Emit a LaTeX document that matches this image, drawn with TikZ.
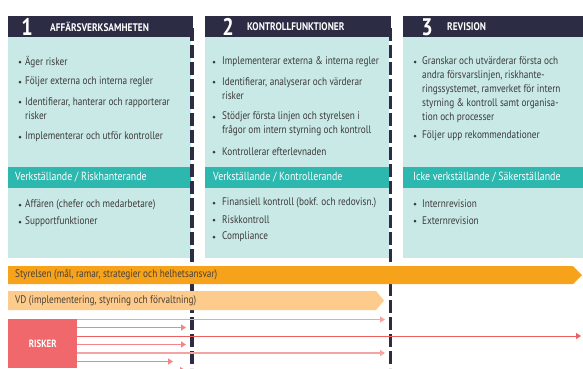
\documentclass[tikz,border=0pt]{standalone}
\usepackage{fontspec}
\setmainfont{PT Sans}[FakeStretch=0.84]
\newfontfamily\titlefam{PT Sans}[FakeStretch=0.85]
\usetikzlibrary{arrows.meta}
\definecolor{navy}{HTML}{2C2D44}
\definecolor{paleteal}{HTML}{C9E9E6}
\definecolor{tealbar}{HTML}{2CB8AF}
\definecolor{txtgray}{HTML}{3A3A3A}
\definecolor{orangebar}{HTML}{F7A21B}
\definecolor{lightorange}{HTML}{FDCB8B}
\definecolor{riskred}{HTML}{F0686B}
\definecolor{arrlight}{HTML}{F5A3A3}
\definecolor{arrmid}{HTML}{F28585}
\definecolor{arrred}{HTML}{EE5F5F}
\definecolor{bartext}{HTML}{4A4035}
\tikzset{
  hdr/.style={fill=navy},
  colbody/.style={fill=paleteal},
  secbar/.style={fill=tealbar},
  txt/.style={anchor=west, inner sep=0pt, text=txtgray, align=left, font=\fontsize{11}{14}\selectfont},
  sectxt/.style={anchor=west, inner sep=0pt, text=white, font=\fontsize{11.8}{13}\selectfont},
  numtxt/.style={anchor=center, inner sep=0pt, text=white, font=\fontsize{24}{26}\selectfont\bfseries},
  titletxt/.style={anchor=west, inner sep=0pt, text=white, font=\fontsize{11}{12}\titlefam\bfseries},
  bartxt/.style={anchor=west, inner sep=0pt, text=bartext, font=\fontsize{11}{13}\selectfont},
  bul/.style={fill=txtgray},
  divider/.style={draw=navy, line width=3.2pt, dash pattern=on 13pt off 4pt},
  arrowbase/.style={-{Triangle[length=5pt,width=6pt]}},
  alight/.style={arrowbase, arrlight, line width=1.4pt},
  amid/.style={arrowbase, arrmid, line width=1.2pt},
  ared/.style={arrowbase, arrred, line width=0.9pt},
}
\begin{document}
\begin{tikzpicture}[x=1pt,y=-1pt]
\useasboundingbox (0,0) rectangle (583,368);

% column bodies
\fill[colbody] (8,37) rectangle (191,258);
\fill[colbody] (205,37) rectangle (389,258);
\fill[colbody] (403,37) rectangle (583,258);
% headers
\fill[hdr] (8,16) rectangle (193,37);
\fill[hdr] (205,16) rectangle (391,37);
\fill[hdr] (403,16) rectangle (583,37);
% section bars
\fill[secbar] (8,167) rectangle (191,188);
\fill[secbar] (205,167) rectangle (389,188);
\fill[secbar] (403,167) rectangle (583,188);

% dividers
\coordinate (d1top) at (192,28);
\coordinate (d1bot) at (192,368);
\coordinate (d2top) at (390.5,28);
\coordinate (d2bot) at (390.5,368);
\draw[divider] (d1top) -- (d1bot);
\draw[divider] (d2top) -- (d2bot);

% header texts
\node[numtxt] (n1) at (27,27) {1};
\node[titletxt] (t1) at (50,27) {AFFÄRSVERKSAMHETEN};
\node[numtxt] (n2) at (228,27) {2};
\node[titletxt] (t2) at (247,27) {KONTROLLFUNKTIONER};
\node[numtxt] (n3) at (427,27) {3};
\node[titletxt] (t3) at (447,27) {REVISION};

% column 1
\fill[bul] (20,62) circle (1.5);
\node[txt] (c1a) at (25,62) {Äger risker};
\fill[bul] (20,82) circle (1.5);
\node[txt] (c1b) at (25,82) {Följer externa och interna regler};
\fill[bul] (20,102) circle (1.5);
\node[txt] (c1c) at (25,109) {Identifierar, hanterar och rapporterar\\risker};
\fill[bul] (20,137) circle (1.5);
\node[txt] (c1d) at (25,137) {Implementerar och utför kontroller};
\node[sectxt] (s1) at (15,177.5) {Verkställande / Riskhanterande};
\fill[bul] (20,205) circle (1.5);
\node[txt] (c1e) at (25,205) {Affären (chefer och medarbetare)};
\fill[bul] (20,222) circle (1.5);
\node[txt] (c1f) at (25,222) {Supportfunktioner};

% column 2
\fill[bul] (214,62) circle (1.5);
\node[txt] (c2a) at (222,62) {Implementerar externa \& interna regler};
\fill[bul] (214,82) circle (1.5);
\node[txt] (c2b) at (222,89) {Identifierar, analyserar och värderar\\risker};
\fill[bul] (214,117) circle (1.5);
\node[txt] (c2c) at (222,124) {Stödjer första linjen och styrelsen i\\frågor om intern styrning och kontroll};
\fill[bul] (214,152) circle (1.5);
\node[txt] (c2d) at (222,152) {Kontrollerar efterlevnaden};
\node[sectxt] (s2) at (213,177.5) {Verkställande / Kontrollerande};
\fill[bul] (214,203) circle (1.5);
\node[txt] (c2e) at (222,203) {Finansiell kontroll (bokf. och redovisn.)};
\fill[bul] (214,220) circle (1.5);
\node[txt] (c2f) at (222,220) {Riskkontroll};
\fill[bul] (214,237) circle (1.5);
\node[txt] (c2g) at (222,237) {Compliance};

% column 3
\fill[bul] (415,62) circle (1.5);
\node[txt] (c3a) at (422,90) {Granskar och utvärderar första och\\andra försvarslinjen, riskhante-\\ringssystemet, ramverket för intern\\styrning \& kontroll samt organisa-\\tion och processer};
\fill[bul] (415,136) circle (1.5);
\node[txt] (c3b) at (422,136) {Följer upp rekommendationer};
\node[sectxt] (s3) at (413,177.5) {Icke verkställande / Säkerställande};
\fill[bul] (415,204) circle (1.5);
\node[txt] (c3c) at (422,204) {Internrevision};
\fill[bul] (415,221) circle (1.5);
\node[txt] (c3d) at (422,221) {Externrevision};

% governance bars
\fill[orangebar] (8,266) -- (573,266) -- (582,275) -- (573,284) -- (8,284) -- cycle;
\node[bartxt] (styr) at (15,275) {Styrelsen (mål, ramar, strategier och helhetsansvar)};
\fill[lightorange] (8,291) -- (376,291) -- (384,300.5) -- (376,310) -- (8,310) -- cycle;
\node[bartxt] (vd) at (15,300.5) {VD (implementering, styrning och förvaltning)};

% risks
\node[fill=riskred, minimum width=69pt, minimum height=49pt, inner sep=0pt, anchor=north west,
      text=white, font=\fontsize{10.5}{12}\selectfont\bfseries] (risker) at (8,319) {RISKER};
\coordinate (e1) at (385,319.5);
\coordinate (e2) at (186,327.5);
\coordinate (e3) at (581,336);
\coordinate (e4) at (186,344.5);
\coordinate (e5) at (385,353);
\coordinate (e6) at (173,361.5);
\coordinate (e7) at (185,370);
\draw[alight] (risker.east |- e1) -- (e1);
\draw[amid] (risker.east |- e2) -- (e2);
\draw[ared] (risker.east |- e3) -- (e3);
\draw[amid] (risker.east |- e4) -- (e4);
\draw[alight] (risker.east |- e5) -- (e5);
\draw[amid] (risker.east |- e6) -- (e6);
\draw[amid] (risker.east |- e7) -- (e7);
\end{tikzpicture}
\end{document}
